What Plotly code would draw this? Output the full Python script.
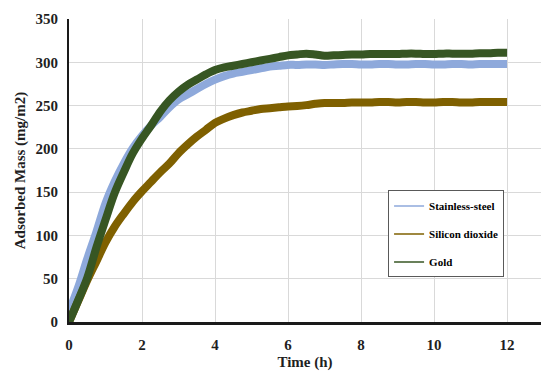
import plotly.graph_objects as go

time_h = [i * 0.25 for i in range(49)]

stainless_steel = [12, 40, 73, 104, 137, 162, 183, 201, 215, 227, 237, 248, 257, 263, 269, 275,
                   280, 284, 287, 289, 291, 293, 295, 296, 297, 297, 297.5, 297.5, 297, 297.5, 298, 298,
                   297.5, 297.5, 298, 298, 297.5, 297.5, 298, 298, 297.5, 297.5, 298, 298, 297.5, 298, 298, 298, 298]

silicon_dioxide = [0, 24, 48, 70, 92, 110, 125, 139, 151, 162, 173, 183, 195, 205, 214, 222,
                   230, 235, 239, 242, 244, 246, 247, 248, 249, 249.5, 250.5, 252, 253, 253, 253, 253.5,
                   253.5, 253.5, 254, 254, 253.5, 254, 254, 253.5, 253.5, 254, 254, 253.5, 253.5, 254, 254, 254, 254]

gold = [0, 25, 51, 86, 118, 149, 173, 195, 212, 227, 243, 256, 266, 274, 280, 286,
        291, 294, 296, 298, 300, 302, 304, 306, 308, 309, 310, 309, 307.5, 308, 308.5, 309,
        309, 309.5, 309.5, 309.5, 309.5, 310, 310, 309.5, 309.5, 310, 310, 310, 310, 310.5, 310.5, 311, 311]

names = ["Stainless-steel", "Silicon dioxide", "Gold"]
colors = ["#8EA9DB", "#7F6000", "#375623"]
series = [stainless_steel, silicon_dioxide, gold]

fig = go.Figure()
for name, color, ys in zip(names, colors, series):
    fig.add_trace(go.Scatter(x=time_h, y=ys, mode="lines", line=dict(color=color, width=8, shape="spline"),
                             showlegend=False, hoverinfo="skip"))
for name, color in zip(names, colors):
    fig.add_trace(go.Scatter(x=[None], y=[None], mode="lines", name=name, legendgroup=name,
                             line=dict(color=color, width=1.5)))

font_family = "Liberation Serif"
text_color = "#1f1f1f"
fig.update_layout(
    width=541, height=373,
    margin=dict(l=69, r=0, t=19, b=51),
    paper_bgcolor="white", plot_bgcolor="white",
    font=dict(family=font_family, size=15, color=text_color),
    legend=dict(x=0.676, y=0.434, xanchor="left", yanchor="top",
                bgcolor="white", bordercolor="#595959", borderwidth=1,
                font=dict(family=font_family, size=11, color="black", weight="bold"),
                tracegroupgap=9, itemwidth=30),
    xaxis=dict(range=[0, 12.93], dtick=2, tick0=0, showgrid=True, gridcolor="#D9D9D9", gridwidth=1,
               showline=True, linecolor="#1a1a1a", linewidth=2.5, zeroline=False, ticks="",
               tickfont=dict(family=font_family, size=15, color=text_color, weight="bold"),
               ticklabelstandoff=7,
               title=dict(text="Time (h)", font=dict(family=font_family, size=15, color=text_color, weight="bold"),
                          standoff=5)),
    yaxis=dict(range=[0, 350], dtick=50, tick0=0, showgrid=True, gridcolor="#D9D9D9", gridwidth=1,
               showline=True, linecolor="#1a1a1a", linewidth=2, zeroline=False, ticks="",
               tickfont=dict(family=font_family, size=15, color=text_color, weight="bold"),
               ticklabelstandoff=6,
               title=dict(text="Adsorbed Mass (mg/m2)", font=dict(family=font_family, size=15, color=text_color, weight="bold"),
                          standoff=6)),
)

fig.write_html("out.html")
